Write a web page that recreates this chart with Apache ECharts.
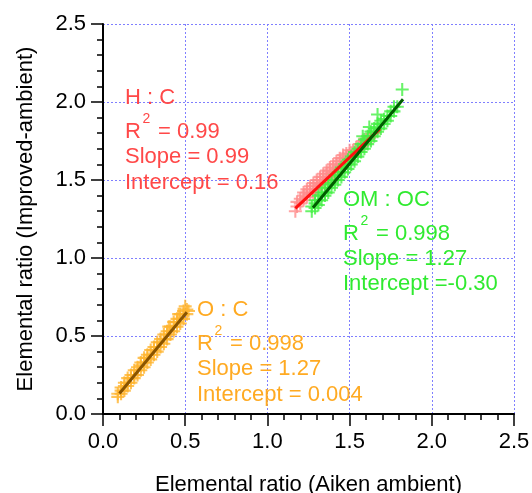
<!DOCTYPE html>
<html>
<head>
<meta charset="utf-8">
<script src="https://cdn.jsdelivr.net/npm/echarts@6/dist/echarts.min.js"></script>
<style>
html,body{margin:0;padding:0;background:#fff;}
#main{width:532px;height:493px;}
</style>
</head>
<body>
<div id="main"></div>
<script>
// ---- Data ----
var xTicks = [0.0, 0.5, 1.0, 1.5, 2.0, 2.5];
var yTicks = [0.0, 0.5, 1.0, 1.5, 2.0, 2.5];

var hcPoints = [
  [1.17,1.30],[1.18,1.33],[1.18,1.36],[1.20,1.35],[1.20,1.38],[1.22,1.37],[1.22,1.40],[1.22,1.42],
  [1.24,1.39],[1.24,1.42],[1.24,1.44],[1.26,1.41],[1.26,1.44],[1.26,1.46],[1.28,1.42],[1.28,1.46],
  [1.28,1.48],[1.30,1.44],[1.30,1.48],[1.30,1.50],[1.32,1.47],[1.32,1.50],[1.32,1.52],[1.34,1.49],
  [1.34,1.52],[1.34,1.54],[1.36,1.51],[1.36,1.54],[1.36,1.56],[1.38,1.52],[1.38,1.56],[1.38,1.58],
  [1.40,1.55],[1.40,1.58],[1.40,1.60],[1.42,1.57],[1.42,1.60],[1.42,1.62],[1.44,1.59],[1.44,1.62],
  [1.44,1.64],[1.46,1.60],[1.46,1.64],[1.46,1.66],[1.48,1.62],[1.48,1.65],[1.48,1.67],[1.50,1.64],
  [1.50,1.67],[1.50,1.69],[1.52,1.66],[1.52,1.69],[1.54,1.69],[1.54,1.71],[1.56,1.70],[1.56,1.73],
  [1.58,1.72],[1.58,1.75],[1.60,1.74],[1.60,1.76],[1.62,1.77],[1.65,1.80]
];
var omocPoints = [
  [1.27,1.30],[1.27,1.33],[1.29,1.32],[1.29,1.35],[1.29,1.37],[1.31,1.34],[1.31,1.37],[1.31,1.40],
  [1.33,1.37],[1.33,1.40],[1.33,1.42],[1.35,1.40],[1.35,1.42],[1.35,1.45],[1.37,1.42],[1.37,1.45],
  [1.37,1.47],[1.39,1.45],[1.39,1.48],[1.39,1.50],[1.41,1.47],[1.41,1.50],[1.41,1.53],[1.43,1.50],
  [1.43,1.53],[1.43,1.55],[1.45,1.52],[1.45,1.55],[1.45,1.58],[1.47,1.55],[1.47,1.58],[1.47,1.60],
  [1.49,1.57],[1.49,1.60],[1.49,1.63],[1.51,1.60],[1.51,1.63],[1.51,1.65],[1.53,1.62],[1.53,1.65],
  [1.53,1.68],[1.55,1.65],[1.55,1.68],[1.55,1.70],[1.57,1.68],[1.57,1.70],[1.57,1.73],[1.58,1.78],
  [1.59,1.70],[1.59,1.73],[1.59,1.76],[1.61,1.73],[1.61,1.76],[1.61,1.78],[1.62,1.84],[1.63,1.75],
  [1.63,1.78],[1.63,1.81],[1.65,1.78],[1.65,1.81],[1.65,1.83],[1.67,1.81],[1.67,1.83],[1.67,1.86],
  [1.67,1.92],[1.69,1.83],[1.69,1.86],[1.69,1.88],[1.71,1.86],[1.71,1.89],[1.73,1.88],[1.73,1.91],
  [1.75,1.91],[1.75,1.94],[1.77,1.94],[1.77,1.97],[1.79,1.97],[1.82,2.08]
];
var ocPoints = [
  [0.09,0.11],[0.09,0.13],[0.11,0.13],[0.11,0.15],[0.11,0.17],[0.13,0.15],[0.13,0.18],[0.13,0.20],
  [0.15,0.18],[0.15,0.20],[0.15,0.23],[0.17,0.20],[0.17,0.23],[0.17,0.25],[0.19,0.23],[0.19,0.25],
  [0.19,0.28],[0.21,0.25],[0.21,0.28],[0.21,0.30],[0.23,0.28],[0.23,0.31],[0.23,0.33],[0.25,0.30],
  [0.25,0.33],[0.25,0.36],[0.27,0.33],[0.27,0.36],[0.27,0.38],[0.29,0.35],[0.29,0.38],[0.29,0.41],
  [0.31,0.38],[0.31,0.41],[0.31,0.43],[0.33,0.40],[0.33,0.43],[0.33,0.46],[0.35,0.43],[0.35,0.46],
  [0.35,0.48],[0.37,0.45],[0.37,0.48],[0.37,0.51],[0.39,0.48],[0.39,0.51],[0.39,0.53],[0.40,0.56],
  [0.41,0.51],[0.41,0.53],[0.41,0.56],[0.43,0.53],[0.43,0.56],[0.43,0.59],[0.45,0.56],[0.45,0.59],
  [0.45,0.61],[0.46,0.64],[0.47,0.58],[0.47,0.61],[0.47,0.64],[0.49,0.61],[0.49,0.64],[0.49,0.66],
  [0.50,0.69],[0.51,0.64],[0.51,0.67],[0.52,0.66]
];
var hcFit = [[1.17,1.318],[1.685,1.828]];
var omocFit = [[1.277,1.322],[1.825,2.018]];
var ocFit = [[0.10,0.131],[0.51,0.652]];

var hcText = ['H : C', '0.99', '0.99', '0.16'];
var omocText = ['OM : OC', '0.998', '1.27', '-0.30'];
var ocText = ['O : C', '0.998', '1.27', '0.004'];

// ---- Styling ----
var FONT = '"Liberation Sans", Arial, Helvetica, sans-serif';
var plusPath = 'path://M4.2,0H5.8V4.2H10V5.8H5.8V10H4.2V5.8H0V4.2H4.2Z';

function scatter(data, color) {
  return {
    type: 'scatter', data: data, symbol: plusPath, symbolSize: 13,
    itemStyle: { color: color }, z: 2, silent: true
  };
}
function fit(data, color) {
  return {
    type: 'line', data: data, showSymbol: false, symbol: 'none',
    lineStyle: { color: color, width: 3 }, z: 3, silent: true
  };
}

var grid = { left: 103, right: 18, top: 24, bottom: 79, containLabel: false, outerBoundsMode: 'none' };

function axisCommon(name, gap) {
  return {
    type: 'value', min: 0, max: 2.5, interval: 0.5,
    name: name, nameLocation: 'middle', nameGap: gap,
    nameTextStyle: { fontFamily: FONT, fontSize: 22, color: '#000' },
    axisLine: { show: true, onZero: false, lineStyle: { color: '#000', width: 2 } },
    axisTick: { show: true, inside: false, length: 12, lineStyle: { color: '#000', width: 1.5 } },
    minorTick: { show: true, splitNumber: 5, length: 6, lineStyle: { color: '#000', width: 1.5 } },
    axisLabel: { fontFamily: FONT, fontSize: 22, color: '#000', margin: 17,
      formatter: function (v) { return v.toFixed(1); } },
    splitLine: { show: true, showMinLine: false, showMaxLine: true,
      lineStyle: { color: '#7f7fff', width: 1, type: [2, 2] } },
    minorSplitLine: { show: false }
  };
}

function annotation(x, ys, texts, color) {
  var els = [];
  var st = function (t, size) {
    return { text: t, fill: color, font: size + 'px ' + FONT, verticalAlign: 'middle' };
  };
  els.push({ type: 'text', x: x, y: ys[0], style: st(texts[0], 22), z: 10 });
  els.push({ type: 'text', x: x, y: ys[1], style: st('R', 22), z: 10 });
  els.push({ type: 'text', x: x + 17.5, y: ys[1] - 12.5, style: st('2', 14), z: 10 });
  els.push({ type: 'text', x: x + 33, y: ys[1], style: st('= ' + texts[1], 22), z: 10 });
  els.push({ type: 'text', x: x, y: ys[2], style: st('Slope = ' + texts[2], 22), z: 10 });
  var ic = texts[3].charAt(0) === '-' ? 'Intercept =' + texts[3] : 'Intercept = ' + texts[3];
  els.push({ type: 'text', x: x, y: ys[3], style: st(ic, 22), z: 10 });
  return els;
}

var chart = echarts.init(document.getElementById('main'), null, { renderer: 'canvas' });
var option = {
  animation: false,
  backgroundColor: '#fff',
  grid: grid,
  xAxis: axisCommon('Elemental ratio (Aiken ambient)', 60),
  yAxis: axisCommon('Elemental ratio (Improved-ambient)', 66),
  series: [
    scatter(ocPoints, '#ffb42e'),
    scatter(hcPoints, '#ff8c8c'),
    scatter(omocPoints, '#44f044'),
    fit(ocFit, '#8a5400'),
    fit(hcFit, '#ff1010'),
    fit(omocFit, '#005c00')
  ],
  graphic: [].concat(
    annotation(125, [97.5, 131.5, 156.5, 182.5], hcText, '#ff4848'),
    annotation(343, [200, 233.5, 258.5, 283.5], omocText, '#30ea30'),
    annotation(197, [310, 343.5, 369, 394.5], ocText, '#ffaa22')
  )
};
chart.setOption(option);
</script>
</body>
</html>
